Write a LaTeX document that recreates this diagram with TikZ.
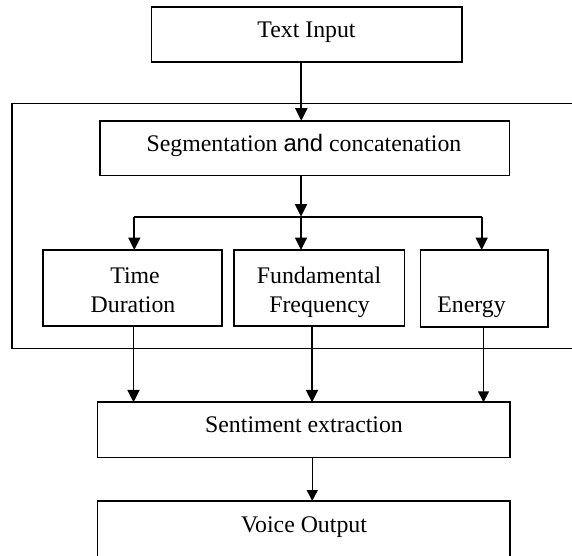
\documentclass[tikz,border=0pt]{standalone}
\usepackage{fontspec}
\setmainfont{Liberation Serif}
\newfontfamily\arialf{Liberation Sans}
\usetikzlibrary{arrows.meta}
\begin{document}
\begin{tikzpicture}[x=1pt,y=-1pt,
  box/.style={draw, line width=1.8pt, rectangle, inner sep=0pt, outer sep=0pt},
  lbl/.style={anchor=base, inner sep=0pt, font=\fontsize{23.8}{28}\selectfont},
  arr/.style={-{Triangle[width=12pt,length=12.5pt]}, line width=1.8pt},
  thinarr/.style={-{Triangle[width=11pt,length=11pt]}, line width=1.4pt},
  ln/.style={line width=1.8pt}]
\fill[white] (0,0) rectangle (572,555);
\useasboundingbox (0,0) rectangle (572,555);
\clip (0,0) rectangle (572,555);

% outer frame
\draw[line width=1.6pt] (12,103.3) rectangle (600,348.3);

% boxes
\node[box, minimum width=310.2pt, minimum height=55.6pt] (in) at (306.6,34.5) {};
\node[box, minimum width=409.5pt, minimum height=54.8pt] (seg) at (304.75,148.1) {};
\node[box, minimum width=179pt, minimum height=75.7pt] (td) at (132.5,287.85) {};
\node[box, minimum width=170.2pt, minimum height=76pt] (fd) at (319.4,288) {};
\node[box, minimum width=127.5pt, minimum height=77pt] (en) at (484.25,288.5) {};
\node[box, minimum width=412.5pt, minimum height=55.2pt] (se) at (303.75,429.9) {};
\node[box, minimum width=412.5pt, minimum height=89pt] (vo) at (303.75,545.5) {};

% labels
\node[lbl] (tin) at (306.5,37.3) {Text Input};
\node[lbl] (tseg) at (304,151.7) {Segmentation {\arialf and} concatenation};
\node[lbl] (ttd1) at (135,283) {Time};
\node[lbl] (ttd2) at (133,312) {Duration};
\node[lbl] (tfd1) at (319,283) {Fundamental};
\node[lbl] (tfd2) at (319.5,312) {Frequency};
\node[lbl] (ten) at (471.5,312) {Energy};
\node[lbl] (tse) at (304,432.7) {Sentiment extraction};
\node[lbl] (tvo) at (304,532.7) {Voice Output};

% connectors
\draw[arr] ([xshift=-5.3pt]in.south) -- ([xshift=-5.3pt]in.south |- seg.north);
\coordinate (bc) at (301,216.7);
\coordinate (bl) at (134.3,216.7);
\coordinate (br) at (481.7,216.7);
\draw[arr] ([xshift=-3.75pt]seg.south) -- (bc);
\draw[ln] (bl) -- (br);
\draw[arr] (bl) -- (bl |- td.north);
\draw[arr] (bc) -- (bc |- fd.north);
\draw[arr] (br) -- (br |- en.north);

\draw[arr] ([xshift=1pt]td.south) -- ([xshift=1pt]td.south |- se.north);
\draw[arr] ([xshift=-7.4pt]fd.south) -- ([xshift=-7.4pt]fd.south |- se.north);
\draw[thinarr] ([xshift=-0.75pt]en.south) -- ([xshift=-0.75pt]en.south |- se.north);
\draw[thinarr] ([xshift=8.5pt]se.south) -- ([xshift=8.5pt]se.south |- vo.north);
\end{tikzpicture}
\end{document}
